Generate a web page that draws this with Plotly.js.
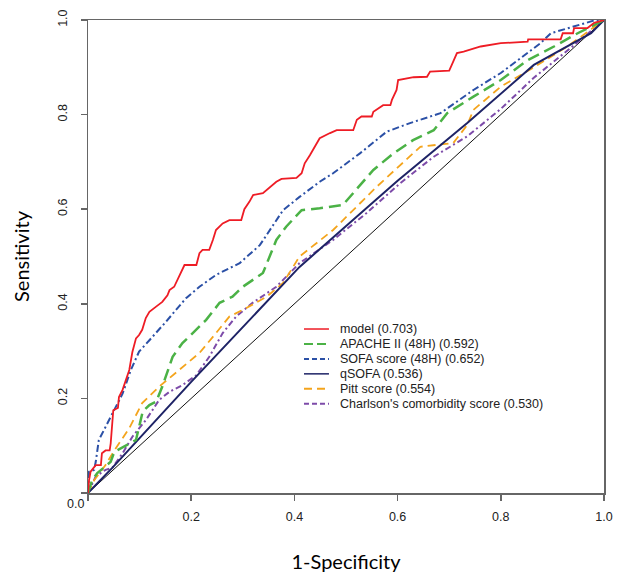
<!DOCTYPE html>
<html>
<head>
<meta charset="utf-8">
<script src="https://cdn.plot.ly/plotly-3.0.1.min.js"></script>
<style>
  body { margin: 0; background: #fff; }
  #chart { width: 622px; height: 585px; outline: 2px solid #222; outline-offset: -2px; }
</style>
</head>
<body>
<div id="chart"></div>
<script>
// ROC curves (x = 1-specificity, y = sensitivity)
const modelX = [0, 0.002, 0.005, 0.015, 0.025, 0.027, 0.034, 0.042, 0.044, 0.047, 0.049, 0.058, 0.06, 0.067, 0.073, 0.08, 0.086, 0.093, 0.099, 0.105, 0.112, 0.119, 0.132, 0.144, 0.154, 0.158, 0.167, 0.18, 0.187, 0.21, 0.216, 0.222, 0.235, 0.242, 0.248, 0.261, 0.274, 0.297, 0.303, 0.313, 0.32, 0.339, 0.349, 0.365, 0.375, 0.404, 0.414, 0.42, 0.43, 0.44, 0.449, 0.469, 0.482, 0.514, 0.521, 0.53, 0.55, 0.553, 0.563, 0.572, 0.586, 0.589, 0.598, 0.601, 0.631, 0.657, 0.663, 0.7, 0.705, 0.715, 0.728, 0.748, 0.761, 0.8, 0.852, 0.853, 0.916, 0.92, 0.94, 0.942, 0.968, 0.981, 1];
const modelY = [0, 0.027, 0.045, 0.059, 0.059, 0.084, 0.09, 0.09, 0.105, 0.158, 0.175, 0.18, 0.203, 0.218, 0.239, 0.26, 0.298, 0.327, 0.334, 0.345, 0.37, 0.383, 0.394, 0.404, 0.418, 0.429, 0.436, 0.465, 0.482, 0.482, 0.507, 0.514, 0.514, 0.535, 0.556, 0.57, 0.577, 0.577, 0.6, 0.616, 0.63, 0.634, 0.644, 0.658, 0.664, 0.666, 0.676, 0.697, 0.714, 0.732, 0.75, 0.761, 0.767, 0.767, 0.789, 0.796, 0.796, 0.806, 0.814, 0.82, 0.82, 0.831, 0.852, 0.873, 0.879, 0.88, 0.891, 0.893, 0.905, 0.93, 0.933, 0.939, 0.944, 0.951, 0.954, 0.959, 0.959, 0.972, 0.972, 0.983, 0.983, 0.994, 1];

const apacheX = [0, 0.008, 0.018, 0.034, 0.044, 0.051, 0.073, 0.093, 0.106, 0.119, 0.132, 0.144, 0.164, 0.183, 0.203, 0.229, 0.255, 0.28, 0.3, 0.339, 0.365, 0.384, 0.414, 0.449, 0.494, 0.514, 0.553, 0.592, 0.63, 0.67, 0.696, 0.747, 0.8, 0.852, 0.903, 0.949, 0.981, 1];
const apacheY = [0, 0.027, 0.042, 0.056, 0.066, 0.087, 0.101, 0.112, 0.172, 0.186, 0.193, 0.225, 0.288, 0.317, 0.338, 0.366, 0.402, 0.415, 0.436, 0.465, 0.535, 0.563, 0.598, 0.602, 0.609, 0.634, 0.683, 0.718, 0.746, 0.767, 0.803, 0.838, 0.873, 0.915, 0.944, 0.972, 0.989, 1];

const sofaX = [0, 0.002, 0.012, 0.015, 0.021, 0.034, 0.051, 0.067, 0.083, 0.099, 0.119, 0.151, 0.19, 0.216, 0.248, 0.294, 0.333, 0.378, 0.41, 0.449, 0.475, 0.527, 0.579, 0.624, 0.683, 0.747, 0.8, 0.877, 0.897, 0.949, 0.981, 1];
const sofaY = [0, 0.045, 0.049, 0.066, 0.112, 0.14, 0.175, 0.21, 0.26, 0.299, 0.323, 0.362, 0.412, 0.436, 0.461, 0.486, 0.524, 0.598, 0.626, 0.658, 0.676, 0.718, 0.764, 0.782, 0.803, 0.852, 0.888, 0.951, 0.972, 0.989, 0.999, 1];

const qsofaX = [0, 0.047, 0.2, 0.41, 0.6, 0.735, 0.864, 0.975, 1];
const qsofaY = [0, 0.053, 0.235, 0.478, 0.66, 0.782, 0.905, 0.972, 1];

const pittX = [0, 0.012, 0.034, 0.051, 0.08, 0.105, 0.138, 0.177, 0.216, 0.248, 0.274, 0.307, 0.346, 0.378, 0.41, 0.475, 0.56, 0.644, 0.708, 0.735, 0.747, 0.8, 0.864, 0.929, 0.981, 1];
const pittY = [0, 0.027, 0.059, 0.09, 0.137, 0.19, 0.225, 0.26, 0.296, 0.338, 0.373, 0.391, 0.415, 0.444, 0.5, 0.556, 0.648, 0.732, 0.74, 0.778, 0.81, 0.859, 0.9, 0.944, 0.986, 1];

const charlsonX = [0, 0.015, 0.034, 0.047, 0.067, 0.086, 0.112, 0.138, 0.158, 0.183, 0.21, 0.235, 0.261, 0.287, 0.319, 0.365, 0.41, 0.475, 0.54, 0.605, 0.67, 0.735, 0.8, 0.864, 0.94, 1];
const charlsonY = [0, 0.035, 0.049, 0.053, 0.084, 0.119, 0.154, 0.197, 0.214, 0.228, 0.249, 0.288, 0.338, 0.373, 0.402, 0.436, 0.486, 0.535, 0.592, 0.655, 0.711, 0.754, 0.812, 0.878, 0.945, 1];

const refX = [0, 1];
const refY = [0, 1];

const names = ['model (0.703)', 'APACHE II (48H) (0.592)', 'SOFA score (48H) (0.652)', 'qSOFA (0.536)', 'Pitt score (0.554)', "Charlson's comorbidity score (0.530)"];
const tickVals = [0, 0.2, 0.4, 0.6, 0.8, 1.0];
const xTickText = ['', '0.2', '0.4', '0.6', '0.8', '1.0'];
const yTickText = ['', '0.2', '0.4', '0.6', '0.8', '1.0'];

// styles in legend order
const colors = ['#EE1C25', '#4BB246', '#2B50A6', '#1E2366', '#F4A41C', '#7D4BA9'];
const dashes = ['solid', '12px,6px', '7px,3px,2px,3px', 'solid', '8px,5px', '6px,3px,2px,3px'];
const widths = [1.8, 2.5, 2, 2, 1.8, 2];
const legendDashes = ['solid', '9px,4px', '5px,3px', 'solid', '8px,5px', '5px,3px'];

function curve(x, y, i) {
    return {
        x: x, y: y, name: names[i], type: 'scatter', mode: 'lines', showlegend: false,
        line: { color: colors[i], dash: dashes[i], width: widths[i] }
    };
}

const traces = [
    { x: refX, y: refY, type: 'scatter', mode: 'lines', showlegend: false,
      line: { color: '#111', width: 1 } },
    curve(charlsonX, charlsonY, 5),
    curve(pittX, pittY, 4),
    curve(qsofaX, qsofaY, 3),
    curve(sofaX, sofaY, 2),
    curve(apacheX, apacheY, 1),
    curve(modelX, modelY, 0)
];

// hand-built legend: plotly's own legend rows are too far apart
const legX0 = 0.4186, legX1 = 0.467, legTextX = 0.484;
const legTop = 0.3467, legStep = 0.0316;
const shapes = [];
const annotations = [
    { xref: 'x', yref: 'y', x: 0, y: 0, text: '0.0', showarrow: false,
      xanchor: 'right', yanchor: 'top', xshift: -2, yshift: -2, font: { size: 12.5, color: '#222' } }
];
names.forEach((name, i) => {
    const yy = legTop - i * legStep;
    shapes.push({ type: 'line', xref: 'paper', yref: 'paper', x0: legX0, x1: legX1, y0: yy, y1: yy,
        line: { color: colors[i], width: i === 0 || i === 3 ? 1.5 : 2, dash: legendDashes[i] } });
    annotations.push({ xref: 'paper', yref: 'paper', x: legTextX, y: yy, text: name, showarrow: false,
        xanchor: 'left', yanchor: 'middle', font: { size: 12.5, color: '#222' } });
});

const layout = {
    width: 622,
    height: 585,
    margin: { l: 88, r: 18, t: 20, b: 92 },
    paper_bgcolor: '#fff',
    plot_bgcolor: '#fff',
    font: { family: 'Liberation Sans, Arial, sans-serif', size: 12, color: '#222' },
    showlegend: false,
    xaxis: {
        range: [0, 1], fixedrange: true,
        showgrid: false, zeroline: false,
        showline: true, linecolor: '#666', linewidth: 1.5, mirror: true,
        ticks: 'outside', ticklen: 6, tickcolor: '#666', tickwidth: 1.5,
        tickvals: tickVals, ticktext: xTickText, ticklabelstandoff: 5,
        tickfont: { size: 12.5 },
        title: { text: '1-Specificity', font: { family: 'Lato, sans-serif', size: 20, color: '#000' }, standoff: 32 }
    },
    yaxis: {
        range: [0, 1], fixedrange: true,
        showgrid: false, zeroline: false,
        showline: true, linecolor: '#666', linewidth: 1.5, mirror: true,
        ticks: 'outside', ticklen: 6, tickcolor: '#666', tickwidth: 1.5,
        tickvals: tickVals, ticktext: yTickText, tickangle: -90, ticklabelstandoff: 9,
        tickfont: { size: 12.5 },
        title: { text: 'Sensitivity', font: { family: 'Lato, sans-serif', size: 20, color: '#000' }, standoff: 20 }
    },
    shapes: shapes,
    annotations: annotations
};

Plotly.newPlot('chart', traces, layout, { displayModeBar: false, staticPlot: true });
</script>
</body>
</html>
